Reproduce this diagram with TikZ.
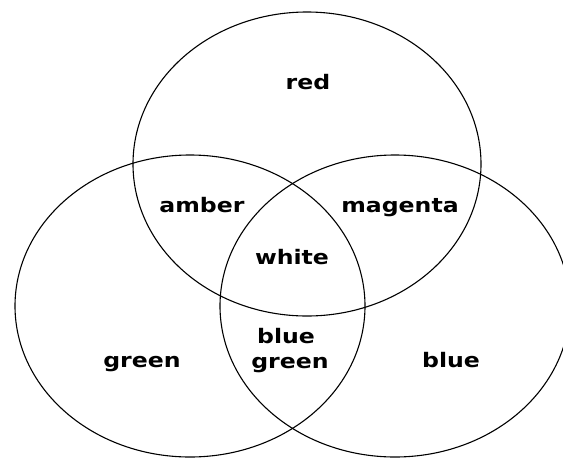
\documentclass[tikz,border=0pt]{standalone}
\usepackage{fontspec}
\newfontfamily\lblfont[FakeStretch=1.18]{DejaVu Sans}
\begin{document}
\begin{tikzpicture}[x=1pt,y=-1pt,
  setring/.style={draw=black,line width=1.1pt},
  lbl/.style={anchor=base,inner sep=0pt,font=\lblfont\bfseries\fontsize{20}{25}\selectfont}]
\useasboundingbox[fill=white] (0,0) rectangle (563,459);
\begin{scope}
\clip (0,0) rectangle (563,459);
\draw[setring] (307,164) ellipse [x radius=174pt, y radius=152pt];
\draw[setring] (190,306) ellipse [x radius=175pt, y radius=151pt];
\draw[setring] (395,306) ellipse [x radius=175pt, y radius=151pt];
\end{scope}
\node[lbl] (red) at (308,89) {red};
\node[lbl] (amber) at (202,212) {amber};
\node[lbl] (magenta) at (400,212) {magenta};
\node[lbl] (white) at (292,264) {white};
\node[lbl] (bgblue) at (286,343) {blue};
\node[lbl] (bggreen) at (290,368) {green};
\node[lbl] (green) at (142,367) {green};
\node[lbl] (blue) at (451,367) {blue};
\end{tikzpicture}
\end{document}
